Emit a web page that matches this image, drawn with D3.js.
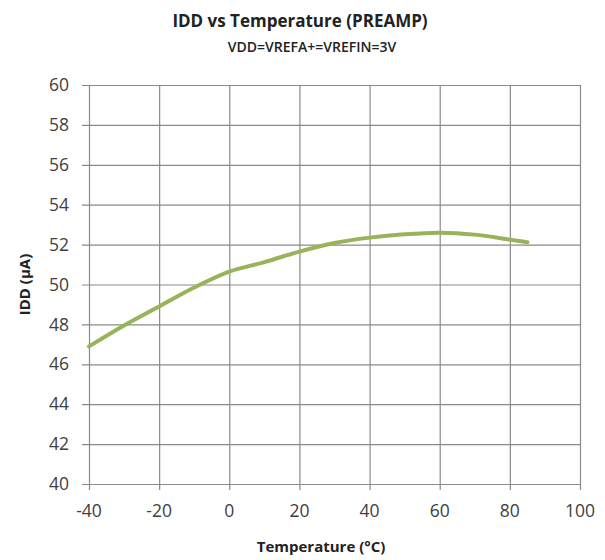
<!DOCTYPE html>
<meta charset="utf-8">
<script src="https://d3js.org/d3.v7.min.js"></script>
<body style="margin:0;background:#fff">
<div id="chart"></div>
<script>
  // data
  const temps = [-40, -30, -20, -10, 0, 10, 20, 30, 40, 50, 60, 70, 80, 85];
  const idd   = [46.9, 47.95, 48.9, 49.85, 50.65, 51.12, 51.65, 52.08, 52.35, 52.52, 52.6, 52.5, 52.25, 52.12];
  const xTicks = [-40, -20, 0, 20, 40, 60, 80, 100];
  const yTicks = [40, 42, 44, 46, 48, 50, 52, 54, 56, 58, 60];

  const width = 605, height = 560;
  const margin = {top: 85, right: 25, bottom: 76, left: 89};

  const svg = d3.select("#chart").append("svg")
    .attr("width", width).attr("height", height)
    .style("font-family", "'Open Sans', sans-serif");

  const x = d3.scaleLinear().domain([-40, 100]).range([margin.left, width - margin.right]);
  const y = d3.scaleLinear().domain([40, 60]).range([height - margin.bottom, margin.top]);

  const gridColor = "#8a8a8a";

  // horizontal gridlines (with little tick stubs to the left)
  svg.append("g").selectAll("line").data(yTicks).join("line")
    .attr("x1", x(-40) - 7).attr("x2", x(100))
    .attr("y1", d => y(d) + 0.5).attr("y2", d => y(d) + 0.5)
    .attr("stroke", gridColor).attr("stroke-width", 1.2);

  // vertical gridlines (with tick stubs below)
  svg.append("g").selectAll("line").data(xTicks).join("line")
    .attr("x1", d => x(d) + 0.5).attr("x2", d => x(d) + 0.5)
    .attr("y1", y(60)).attr("y2", y(40) + 6)
    .attr("stroke", gridColor).attr("stroke-width", 1.2);

  // tick labels
  svg.append("g").selectAll("text").data(yTicks).join("text")
    .attr("x", x(-40) - 20).attr("y", d => y(d))
    .attr("dy", "0.35em").attr("text-anchor", "end")
    .style("font-size", "17.5px").attr("fill", "#404040")
    .text(d => d);

  svg.append("g").selectAll("text").data(xTicks).join("text")
    .attr("x", d => x(d)).attr("y", y(40) + 33)
    .attr("text-anchor", "middle")
    .style("font-size", "17.5px").attr("fill", "#404040")
    .text(d => d);

  // the curve
  const line = d3.line()
    .x((d, i) => x(temps[i]))
    .y(d => y(d))
    .curve(d3.curveCatmullRom.alpha(0.5));

  svg.append("path")
    .datum(idd)
    .attr("fill", "none")
    .attr("stroke", "#97b45a")
    .attr("stroke-width", 4)
    .attr("stroke-linecap", "round")
    .attr("d", line);

  // titles
  svg.append("text")
    .attr("x", 300).attr("y", 27)
    .attr("text-anchor", "middle")
    .style("font-size", "17px").style("font-weight", "bold").attr("fill", "#222")
    .text("IDD vs Temperature (PREAMP)");

  svg.append("text")
    .attr("x", 312).attr("y", 52)
    .attr("text-anchor", "middle")
    .style("font-size", "14px").style("font-weight", "600").attr("fill", "#222")
    .text("VDD=VREFA+=VREFIN=3V");

  svg.append("text")
    .attr("x", 321).attr("y", 552)
    .attr("text-anchor", "middle")
    .style("font-size", "15px").style("font-weight", "bold").attr("fill", "#222")
    .text("Temperature (°C)");

  svg.append("text")
    .attr("transform", `translate(30,${(y(40) + y(60)) / 2}) rotate(-90)`)
    .attr("text-anchor", "middle")
    .style("font-size", "15px").style("font-weight", "bold").attr("fill", "#222")
    .text("IDD (µA)");
</script>
</body>
